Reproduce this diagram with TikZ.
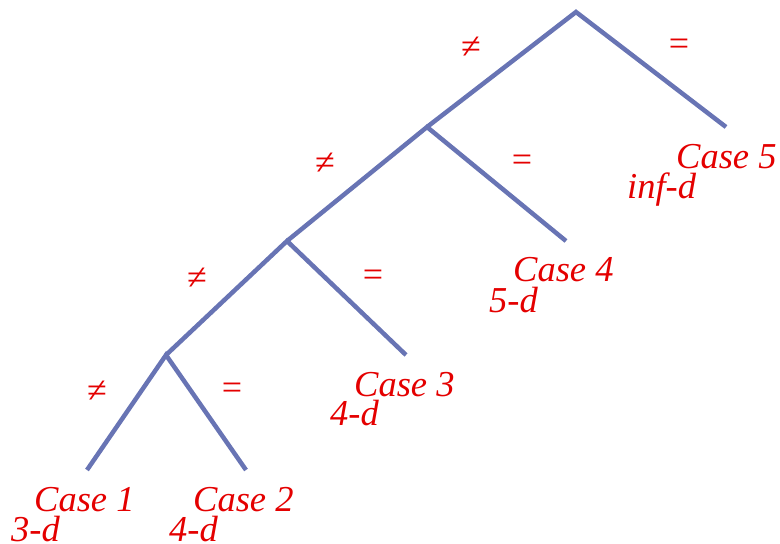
\documentclass[tikz,border=0pt]{standalone}
\usepackage{fontspec}
\setmainfont{Liberation Serif}
\definecolor{edgeblue}{RGB}{104,116,180}
\definecolor{labred}{RGB}{228,0,0}
\begin{document}
\begin{tikzpicture}[x=1pt,y=-1pt,
  branch/.style={draw=edgeblue,line width=4.5pt},
  leaf/.style={anchor=base west,inner sep=0pt,text=labred,font=\fontsize{36.5}{36}\selectfont\itshape},
  sym/.style={inner sep=0pt,text=labred,font=\fontsize{36}{36}\selectfont}]
\useasboundingbox (0,0) rectangle (780,544);
\coordinate (r) at (576,12);
\coordinate (a) at (427,127);
\coordinate (e5) at (726,127);
\coordinate (b) at (287,241);
\coordinate (e4) at (566,241);
\coordinate (c) at (166,355);
\coordinate (e3) at (406,355);
\coordinate (e1) at (87,470);
\coordinate (e2) at (246,470);
\draw[branch] (a) -- (r) -- (e5);
\draw[branch] (b) -- (a) -- (e4);
\draw[branch] (c) -- (b) -- (e3);
\draw[branch] (e1) -- (c) -- (e2);
\node[sym] (n1) at (471,48) {≠};
\node[sym] (q1) at (679,47) {=};
\node[sym] (n2) at (325,164) {≠};
\node[sym] (q2) at (522,163) {=};
\node[sym] (n3) at (197,279) {≠};
\node[sym] (q3) at (373,278) {=};
\node[sym] (n4) at (97,392) {≠};
\node[sym] (q4) at (232,391) {=};
\node[leaf] (c5) at (676,168) {Case 5};
\node[leaf] (d5) at (627,198) {inf-d};
\node[leaf] (c4) at (513,281) {Case 4};
\node[leaf] (d4) at (489,312) {5-d};
\node[leaf] (c3) at (354,396) {Case 3};
\node[leaf] (d3) at (330,425) {4-d};
\node[leaf] (c1) at (34,511) {Case 1};
\node[leaf] (d1) at (11,541) {3-d};
\node[leaf] (c2) at (193,511) {Case 2};
\node[leaf] (d2) at (169,541) {4-d};
\end{tikzpicture}
\end{document}
